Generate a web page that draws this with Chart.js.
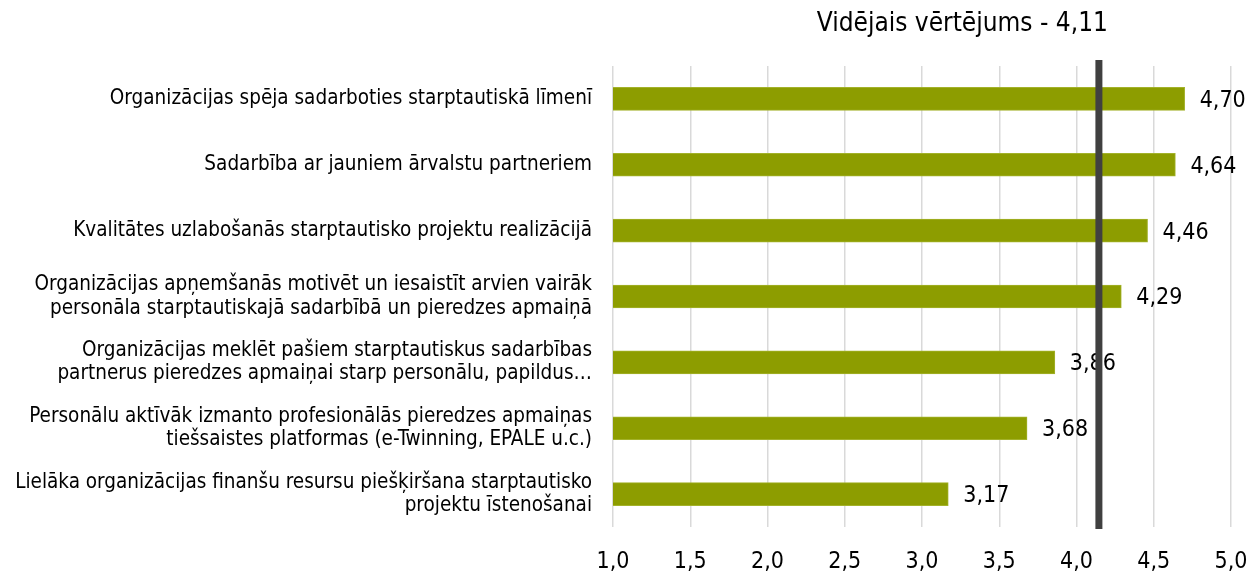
<!DOCTYPE html>
<html>
<head>
<meta charset="utf-8">
<script src="https://cdn.jsdelivr.net/npm/chart.js@4/dist/chart.umd.min.js"></script>
<style>
  html, body { margin: 0; padding: 0; background: #fff; }
  #wrap { width: 1250px; height: 572px; }
</style>
</head>
<body>
<div id="wrap"><canvas id="chart" width="1250" height="572"></canvas></div>
<script>
// Chart data
const categories = [
  'Organizācijas spēja sadarboties starptautiskā līmenī',
  'Sadarbība ar jauniem ārvalstu partneriem',
  'Kvalitātes uzlabošanās starptautisko projektu realizācijā',
  ['Organizācijas apņemšanās motivēt un iesaistīt arvien vairāk', 'personāla starptautiskajā sadarbībā un pieredzes apmaiņā'],
  ['Organizācijas meklēt pašiem starptautiskus sadarbības', 'partnerus pieredzes apmaiņai starp personālu, papildus…'],
  ['Personālu aktīvāk izmanto profesionālās pieredzes apmaiņas', 'tiešsaistes platformas (e-Twinning, EPALE u.c.)'],
  ['Lielāka organizācijas finanšu resursu piešķiršana starptautisko', 'projektu īstenošanai']
];
const values = [4.70, 4.64, 4.46, 4.29, 3.86, 3.68, 3.17];
const averageLabel = 'Vidējais vērtējums - 4,11';
// the vertical line sits a little right of 4,11 in the source picture
const averageLineAt = 4.145;
const axisMin = 1.0;
const axisMax = 5.0;
const axisStep = 0.5;

const FONT = '"DejaVu Sans Condensed", "DejaVu Sans", sans-serif';

function fmt(v, digits) {
  return v.toFixed(digits).replace('.', ',');
}

// Value labels at the bar ends
const valueLabels = {
  id: 'valueLabels',
  afterDatasetsDraw(chart) {
    const ctx = chart.ctx;
    const meta = chart.getDatasetMeta(0);
    ctx.save();
    ctx.font = '23px ' + FONT;
    ctx.fillStyle = '#000';
    ctx.textAlign = 'left';
    ctx.textBaseline = 'middle';
    meta.data.forEach((bar, i) => {
      ctx.fillText(fmt(values[i], 2), bar.x + 15, bar.y + 2);
    });
    ctx.restore();
  }
};

// Average line and its caption
const averageLine = {
  id: 'averageLine',
  afterDatasetsDraw(chart) {
    const ctx = chart.ctx;
    const area = chart.chartArea;
    const x = chart.scales.x.getPixelForValue(averageLineAt);
    ctx.save();
    ctx.strokeStyle = '#404040';
    ctx.lineWidth = 7;
    ctx.beginPath();
    ctx.moveTo(x, area.top - 6);
    ctx.lineTo(x, area.bottom + 2);
    ctx.stroke();
    ctx.font = '26px ' + FONT;
    ctx.fillStyle = '#000';
    ctx.textAlign = 'right';
    ctx.textBaseline = 'middle';
    ctx.fillText(averageLabel, x + 9, 24);
    ctx.restore();
  }
};

new Chart(document.getElementById('chart'), {
  type: 'bar',
  data: {
    labels: categories,
    datasets: [{
      data: values,
      backgroundColor: '#8d9d00',
      borderColor: '#a3b22a',
      borderWidth: 1,
      borderSkipped: false,
      barThickness: 23
    }]
  },
  options: {
    indexAxis: 'y',
    responsive: false,
    animation: false,
    layout: {
      padding: { top: 66, right: 19, bottom: 0, left: 0 }
    },
    scales: {
      x: {
        min: axisMin,
        max: axisMax,
        grid: {
          color: '#d9d9d9',
          lineWidth: 1.5,
          drawTicks: false
        },
        border: { display: false },
        ticks: {
          stepSize: axisStep,
          padding: 21,
          color: '#000',
          font: { family: FONT, size: 23 },
          callback: v => fmt(v, 1)
        },
        afterFit(scale) {
          scale.height = 45;
          scale.paddingLeft = 0;
          scale.paddingRight = 0;
        }
      },
      y: {
        grid: { display: false, drawTicks: false },
        border: { display: false },
        ticks: {
          padding: 21,
          color: '#000',
          font: { family: FONT, size: 20.5, lineHeight: 1.15 }
        },
        afterFit(scale) { scale.width = 613; }
      }
    },
    plugins: {
      legend: { display: false },
      tooltip: { enabled: false }
    }
  },
  plugins: [valueLabels, averageLine]
});
</script>
</body>
</html>
